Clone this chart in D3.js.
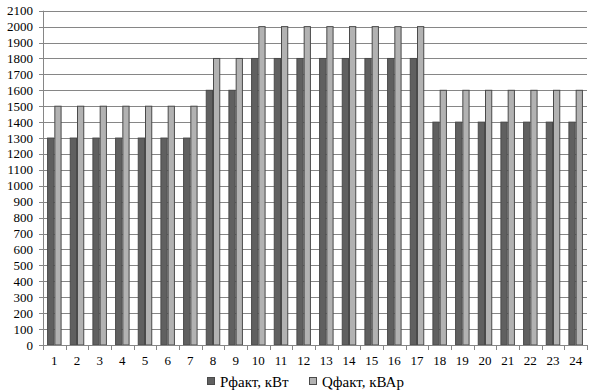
<!DOCTYPE html>
<html><head><meta charset="utf-8">
<script src="https://cdn.jsdelivr.net/npm/d3@7"></script>
<style>body{margin:0;background:#fff}svg{display:block}text{font-family:"Liberation Serif","Times New Roman",serif}</style>
</head><body><svg id="c" width="593" height="391"></svg>
<script>
const hours = d3.range(1,25).map(String);
const pFact = [1300,1300,1300,1300,1300,1300,1300,1600,1600,1800,1800,1800,1800,1800,1800,1800,1800,1400,1400,1400,1400,1400,1400,1400];
const qFact = [1500,1500,1500,1500,1500,1500,1500,1800,1800,2000,2000,2000,2000,2000,2000,2000,2000,1600,1600,1600,1600,1600,1600,1600];
const yTicks = d3.range(0,2101,100);
const seriesNames = ["Рфакт, кВт","Qфакт, кВАр"];
const colors = ["#606060","#b2b2b2"];

const svg = d3.select("#c");
const L=43,R=587,T=10.7,B=345;
const x = d3.scaleBand().domain(hours).range([L,R]).paddingInner(0.36).paddingOuter(0.18);
const x1 = d3.scaleBand().domain([0,1]).range([0,x.bandwidth()]);
const y = d3.scaleLinear().domain([0,2100]).range([B,T]);

svg.append("g").selectAll("line").data(yTicks).join("line")
  .attr("x1",L-4).attr("x2",R).attr("y1",d=>Math.round(y(d))+0.5).attr("y2",d=>Math.round(y(d))+0.5)
  .attr("stroke","#868686").attr("stroke-width",1);
svg.append("g").selectAll("text").data(yTicks).join("text")
  .attr("x",33).attr("y",d=>y(d)+4.5).attr("text-anchor","end").attr("font-size",13).attr("fill","#000").text(d=>d);

const series=[pFact,qFact];
series.forEach((s,si)=>{
  svg.append("g").selectAll("rect").data(s).join("rect")
    .attr("x",(d,i)=>x(hours[i])+x1(si)+0.5).attr("width",x1.bandwidth()-1)
    .attr("y",d=>y(d)).attr("height",d=>B-y(d))
    .attr("fill",colors[si]).attr("stroke","#4a4a4a").attr("stroke-width",1);
});

svg.append("line").attr("x1",L+0.5).attr("x2",L+0.5).attr("y1",T).attr("y2",B).attr("stroke","#868686");
svg.append("line").attr("x1",L).attr("x2",R).attr("y1",B+0.5).attr("y2",B+0.5).attr("stroke","#868686");
const step=(R-L)/24;
svg.append("g").selectAll("line").data(d3.range(0,25)).join("line")
  .attr("x1",d=>Math.round(L+d*step)+0.5).attr("x2",d=>Math.round(L+d*step)+0.5).attr("y1",B).attr("y2",B+5)
  .attr("stroke","#868686");
svg.append("g").selectAll("text").data(hours).join("text")
  .attr("x",d=>x(d)+x.bandwidth()/2).attr("y",365).attr("text-anchor","middle").attr("font-size",13).text(d=>d);

const lg=[[207,220],[309,322]];
seriesNames.forEach((n,i)=>{
  svg.append("rect").attr("x",lg[i][0]+0.5).attr("y",377.5).attr("width",7).attr("height",7)
    .attr("fill",colors[i]).attr("stroke","#4a4a4a");
  svg.append("text").attr("x",lg[i][1]).attr("y",386.5).attr("font-size",15).text(n);
});
</script></body></html>
